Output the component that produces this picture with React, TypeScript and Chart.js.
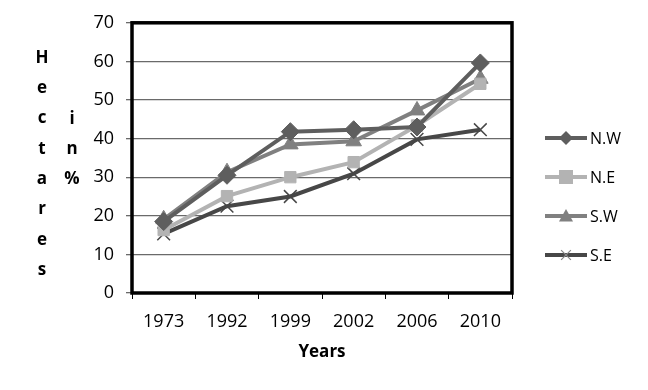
import React, { useEffect, useRef } from "react";
import { Chart, registerables } from "chart.js";

Chart.register(...registerables);

const years = ["1973", "1992", "1999", "2002", "2006", "2010"];
const nw = [18.5, 30.5, 41.8, 42.3, 43, 59.6];
const ne = [16.3, 25.1, 30, 33.9, 43.4, 54.2];
const sw = [19.1, 31.3, 38.5, 39.3, 47.3, 55.5];
const se = [15.3, 22.5, 25, 30.9, 39.8, 42.3];
const seriesNames = ["N.W", "N.E", "S.W", "S.E"];
const yTitleLetters = ["H", "e", "c", "t", "a", "r", "e", "s"];
const yTitleLetters2 = ["i", "n", "%"];
const xTitle = "Years";

const colors = ["#5e5e5e", "#b3b3b3", "#808080", "#474747"];
const styles = ["rectRot", "rect", "triangle", "crossRot"];
const radii = [9, 8, 9, 9];
const FONT = "'Open Sans', 'Noto Sans', sans-serif";

function drawPoint(ctx: CanvasRenderingContext2D, style: string, r: number, x: number, y: number) {
  ctx.beginPath();
  switch (style) {
    case "rectRot":
      ctx.moveTo(x, y - r);
      ctx.lineTo(x + r, y);
      ctx.lineTo(x, y + r);
      ctx.lineTo(x - r, y);
      ctx.closePath();
      ctx.fill();
      break;
    case "rect":
      ctx.rect(x - r, y - r, 2 * r, 2 * r);
      ctx.fill();
      break;
    case "triangle":
      ctx.moveTo(x, y - r);
      ctx.lineTo(x + r, y + r * 0.8);
      ctx.lineTo(x - r, y + r * 0.8);
      ctx.closePath();
      ctx.fill();
      break;
    case "crossRot":
      ctx.moveTo(x - r * 0.7, y - r * 0.7);
      ctx.lineTo(x + r * 0.7, y + r * 0.7);
      ctx.moveTo(x + r * 0.7, y - r * 0.7);
      ctx.lineTo(x - r * 0.7, y + r * 0.7);
      ctx.stroke();
      break;
  }
}

const decorPlugin = {
  id: "decor",
  afterDatasetsDraw(chart: any) {
    const { ctx, chartArea } = chart;
    ctx.save();
    ctx.strokeStyle = "#000";
    ctx.lineWidth = 3.5;
    ctx.strokeRect(chartArea.left, chartArea.top, chartArea.right - chartArea.left, chartArea.bottom - chartArea.top);
    ctx.fillStyle = "#000";
    ctx.font = `bold 17px ${FONT}`;
    ctx.textAlign = "center";
    ctx.textBaseline = "middle";
    yTitleLetters.forEach((l, i) => ctx.fillText(l, 42, 58 + i * 30.3));
    yTitleLetters2.forEach((l, i) => ctx.fillText(l, 72, 119 + i * 30.3));
    ctx.fillText(xTitle, (chartArea.left + chartArea.right) / 2, 352);
    ctx.font = `16px ${FONT}`;
    ctx.textAlign = "left";
    chart.data.datasets.forEach((ds: any, i: number) => {
      const y = 138 + i * 39;
      ctx.strokeStyle = ds.borderColor;
      ctx.lineWidth = 4;
      ctx.beginPath();
      ctx.moveTo(545, y);
      ctx.lineTo(587, y);
      ctx.stroke();
      ctx.fillStyle = ds.pointBackgroundColor;
      ctx.strokeStyle = "#888";
      ctx.lineWidth = 1.2;
      drawPoint(ctx, ds.pointStyle, 7, 566, y);
      ctx.fillStyle = "#000";
      ctx.fillText(ds.label, 590, y + 1);
    });
    ctx.restore();
  },
};

export default function App() {
  const ref = useRef<HTMLCanvasElement>(null);
  useEffect(() => {
    const values = [nw, ne, sw, se];
    const chart = new Chart(ref.current!, {
      type: "line",
      data: {
        labels: years,
        datasets: values.map((v, i) => ({
          label: seriesNames[i],
          data: v,
          borderColor: colors[i],
          backgroundColor: colors[i],
          pointBackgroundColor: colors[i],
          pointBorderColor: colors[i],
          pointStyle: styles[i] as any,
          pointRadius: radii[i],
          pointBorderWidth: styles[i] === "crossRot" ? 1.5 : 1,
          borderWidth: 4,
          tension: 0,
        })),
      },
      options: {
        responsive: false,
        animation: false,
        events: [],
        layout: { padding: { left: 0, right: 136, top: 22, bottom: 0 } },
        plugins: { legend: { display: false }, tooltip: { enabled: false } },
        scales: {
          x: {
            offset: true,
            grid: { offset: true, drawOnChartArea: false, tickLength: 6, color: "#000" },
            border: { display: false },
            ticks: { color: "#000", font: { family: FONT, size: 18 }, padding: 12 },
            afterFit: (s: any) => { s.height = 97; },
          },
          y: {
            min: 0,
            max: 70,
            ticks: { stepSize: 10, color: "#000", font: { family: FONT, size: 18 }, padding: 12 },
            grid: { color: "#6a6a6a", tickLength: 6, lineWidth: 1.3 },
            border: { display: false },
            afterFit: (s: any) => { s.width = 132; },
          },
        },
      },
      plugins: [decorPlugin],
    });
    return () => chart.destroy();
  }, []);
  return (
    <div style={{ position: "fixed", left: 0, top: 0, width: 648, height: 390, background: "#fff" }}>
      <canvas ref={ref} width={648} height={390} />
    </div>
  );
}
